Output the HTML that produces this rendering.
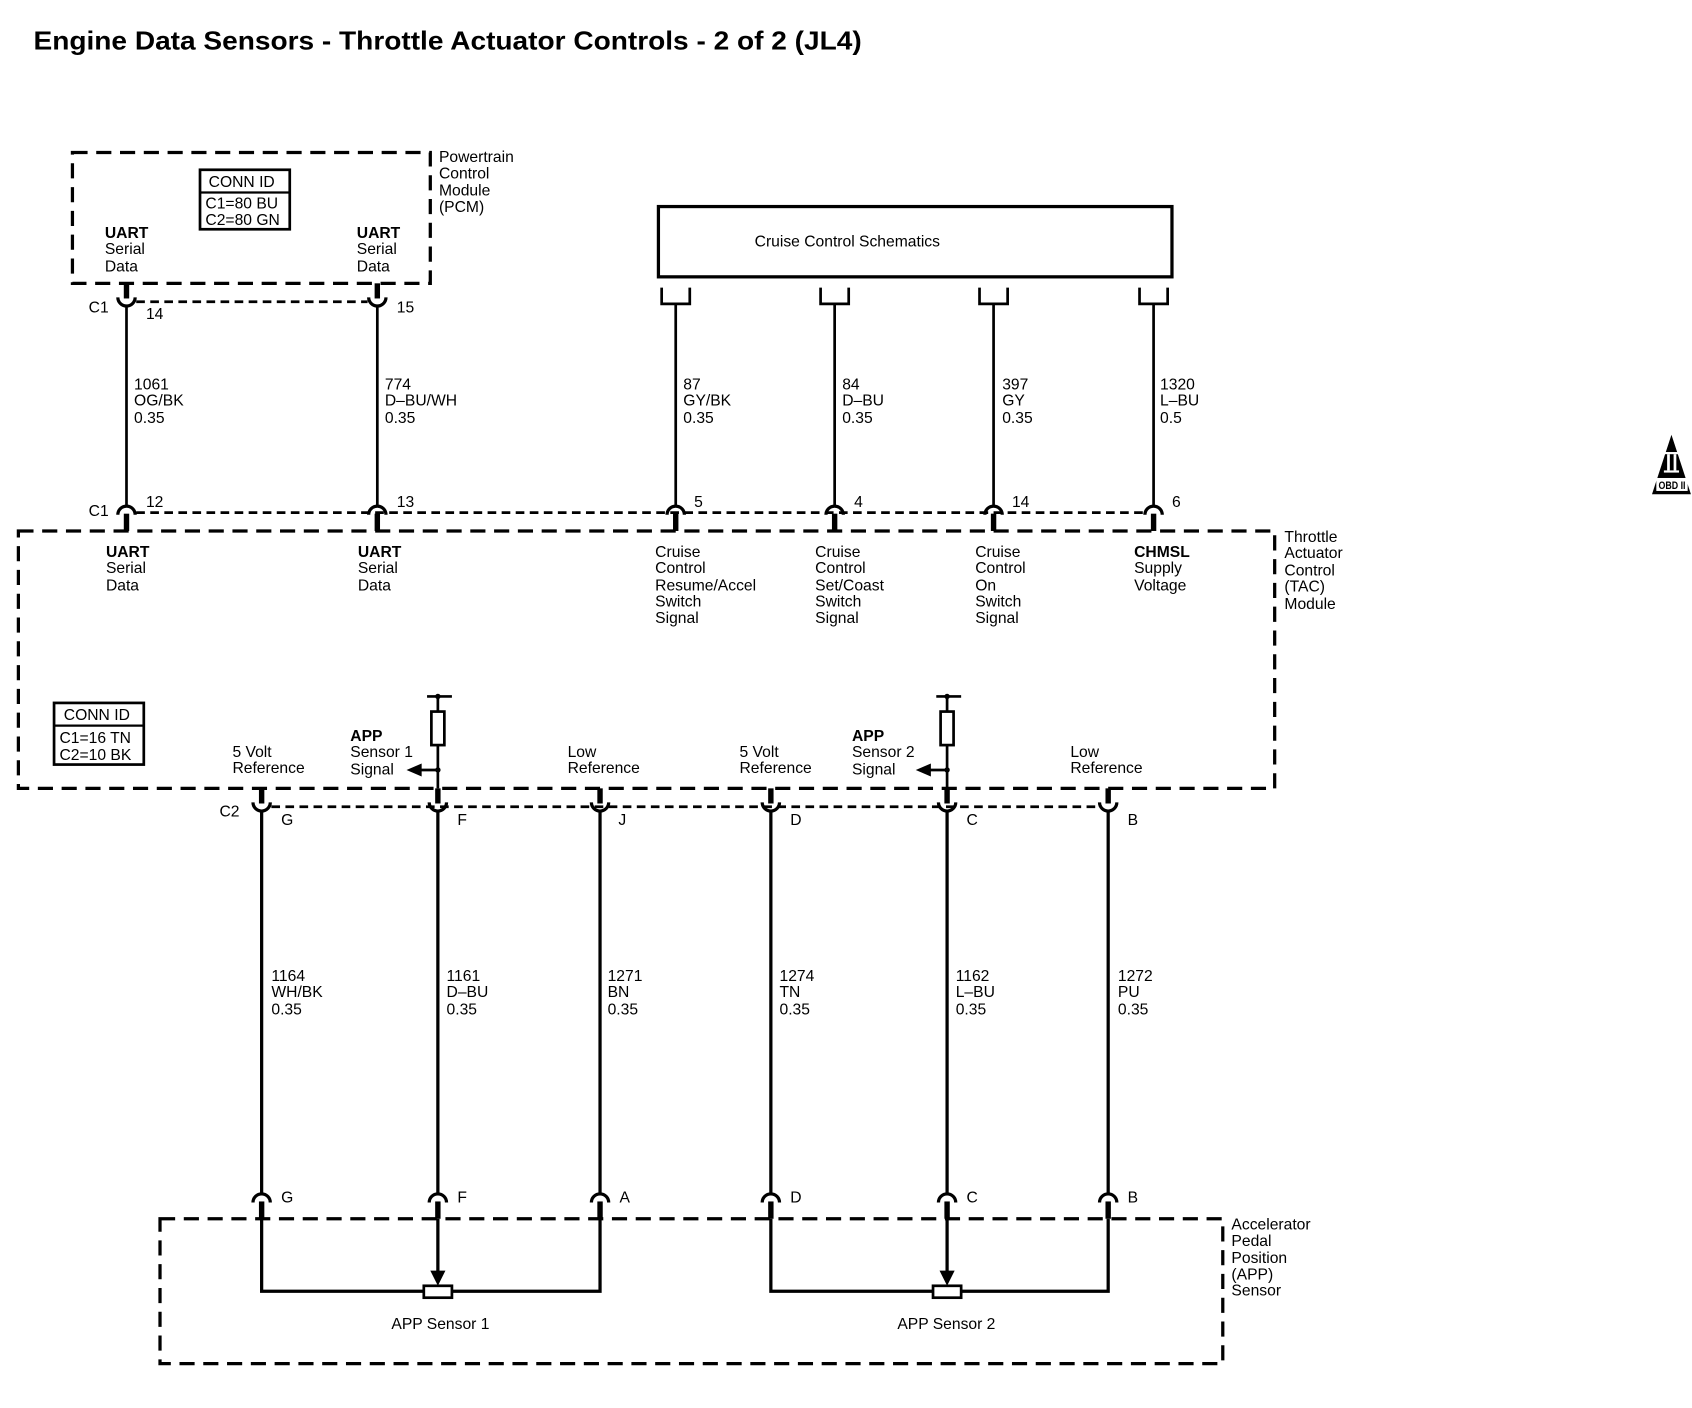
<!DOCTYPE html>
<html><head><meta charset="utf-8"><style>
html,body{margin:0;padding:0;background:#fff;}
svg{display:block;}
text{font-family:"Liberation Sans",Arial,sans-serif;font-size:14.5px;fill:#000;}
.b{font-weight:bold;}
</style></head><body>
<svg width="1692" height="1408" viewBox="0 0 1565 1302" preserveAspectRatio="none" xmlns="http://www.w3.org/2000/svg">
<defs>
<g id="cu"><line x1="0" y1="-14" x2="0" y2="0" stroke="#000" stroke-width="5"/><path d="M-8,-1 A8 8 0 0 0 8,-1" fill="none" stroke="#000" stroke-width="3"/></g>
<g id="ca"><path d="M-8,1 A8 8 0 0 1 8,1" fill="none" stroke="#000" stroke-width="3"/><line x1="0" y1="0" x2="0" y2="16" stroke="#000" stroke-width="5"/></g>
<g id="br"><path d="M-13,266 V281 H13 V266" fill="none" stroke="#000" stroke-width="2.5"/></g>
</defs>

<text x="31" y="46" class="b" style="font-size:24px" textLength="766" lengthAdjust="spacingAndGlyphs">Engine Data Sensors - Throttle Actuator Controls - 2 of 2 (JL4)</text>

<rect x="67" y="141" width="331" height="121" fill="none" stroke="#000" stroke-width="3" stroke-dasharray="14 8"/>
<text x="406" y="150">Powertrain</text><text x="406" y="165">Control</text><text x="406" y="181">Module</text><text x="406" y="196">(PCM)</text>
<rect x="185" y="157" width="83" height="55" fill="none" stroke="#000" stroke-width="2.5"/>
<line x1="185" y1="178" x2="268" y2="178" stroke="#000" stroke-width="2"/>
<text x="193" y="173">CONN ID</text><text x="190" y="193">C1=80 BU</text><text x="190" y="208">C2=80 GN</text>
<text x="97" y="220" class="b">UART</text><text x="97" y="235">Serial</text><text x="97" y="251">Data</text>
<text x="330" y="220" class="b">UART</text><text x="330" y="235">Serial</text><text x="330" y="251">Data</text>

<rect x="609" y="191" width="475" height="65" fill="none" stroke="#000" stroke-width="3"/>
<text x="698" y="228">Cruise Control Schematics</text>
<use href="#br" x="625"/><use href="#br" x="772"/><use href="#br" x="919"/><use href="#br" x="1067"/>

<line x1="126" y1="279" x2="340" y2="279" stroke="#000" stroke-width="2.5" stroke-dasharray="8 5"/>
<use href="#cu" x="117" y="276"/><use href="#cu" x="349" y="276"/>
<text x="82" y="289">C1</text><text x="135" y="295">14</text><text x="367" y="289">15</text>

<g stroke="#000" stroke-width="2.5">
<line x1="117" y1="283" x2="117" y2="468"/><line x1="349" y1="283" x2="349" y2="468"/>
<line x1="625" y1="281" x2="625" y2="468"/><line x1="772" y1="281" x2="772" y2="468"/>
<line x1="919" y1="281" x2="919" y2="468"/><line x1="1067" y1="281" x2="1067" y2="468"/>
</g>
<text x="124" y="360">1061</text><text x="124" y="375">OG/BK</text><text x="124" y="391">0.35</text>
<text x="356" y="360">774</text><text x="356" y="375">D–BU/WH</text><text x="356" y="391">0.35</text>
<text x="632" y="360">87</text><text x="632" y="375">GY/BK</text><text x="632" y="391">0.35</text>
<text x="779" y="360">84</text><text x="779" y="375">D–BU</text><text x="779" y="391">0.35</text>
<text x="927" y="360">397</text><text x="927" y="375">GY</text><text x="927" y="391">0.35</text>
<text x="1073" y="360">1320</text><text x="1073" y="375">L–BU</text><text x="1073" y="391">0.5</text>

<line x1="126" y1="474" x2="1060" y2="474" stroke="#000" stroke-width="2.5" stroke-dasharray="8 5"/>
<use href="#ca" x="117" y="475"/><use href="#ca" x="349" y="475"/><use href="#ca" x="625" y="475"/>
<use href="#ca" x="772" y="475"/><use href="#ca" x="919" y="475"/><use href="#ca" x="1067" y="475"/>
<text x="82" y="477">C1</text><text x="135" y="469">12</text><text x="367" y="469">13</text>
<text x="642" y="469">5</text><text x="790" y="469">4</text><text x="936" y="469">14</text><text x="1084" y="469">6</text>

<rect x="17" y="491" width="1162" height="238" fill="none" stroke="#000" stroke-width="3" stroke-dasharray="14 8"/>
<text x="1188" y="501">Throttle</text><text x="1188" y="516">Actuator</text><text x="1188" y="532">Control</text><text x="1188" y="547">(TAC)</text><text x="1188" y="563">Module</text>
<text x="98" y="515" class="b">UART</text><text x="98" y="530">Serial</text><text x="98" y="546">Data</text>
<text x="331" y="515" class="b">UART</text><text x="331" y="530">Serial</text><text x="331" y="546">Data</text>
<text x="606" y="515">Cruise</text><text x="606" y="530">Control</text><text x="606" y="546">Resume/Accel</text><text x="606" y="561">Switch</text><text x="606" y="576">Signal</text>
<text x="754" y="515">Cruise</text><text x="754" y="530">Control</text><text x="754" y="546">Set/Coast</text><text x="754" y="561">Switch</text><text x="754" y="576">Signal</text>
<text x="902" y="515">Cruise</text><text x="902" y="530">Control</text><text x="902" y="546">On</text><text x="902" y="561">Switch</text><text x="902" y="576">Signal</text>
<text x="1049" y="515" class="b">CHMSL</text><text x="1049" y="530">Supply</text><text x="1049" y="546">Voltage</text>

<rect x="50" y="650" width="83" height="57" fill="none" stroke="#000" stroke-width="2.5"/>
<line x1="50" y1="671" x2="133" y2="671" stroke="#000" stroke-width="2"/>
<text x="59" y="666">CONN ID</text><text x="55" y="687">C1=16 TN</text><text x="55" y="703">C2=10 BK</text>

<text x="215" y="700">5 Volt</text><text x="215" y="715">Reference</text>
<text x="324" y="685" class="b">APP</text><text x="324" y="700">Sensor 1</text><text x="324" y="716">Signal</text>
<text x="525" y="700">Low</text><text x="525" y="715">Reference</text>
<text x="684" y="700">5 Volt</text><text x="684" y="715">Reference</text>
<text x="788" y="685" class="b">APP</text><text x="788" y="700">Sensor 2</text><text x="788" y="716">Signal</text>
<text x="990" y="700">Low</text><text x="990" y="715">Reference</text>

<g stroke="#000" stroke-width="2.5" fill="none">
<line x1="395" y1="644" x2="418" y2="644"/><line x1="405" y1="644" x2="405" y2="658"/>
<rect x="399" y="658" width="12" height="31" fill="#fff"/><line x1="405" y1="689" x2="405" y2="729"/>
<line x1="405" y1="712" x2="388" y2="712"/>
<line x1="866" y1="644" x2="889" y2="644"/><line x1="876" y1="644" x2="876" y2="658"/>
<rect x="870" y="658" width="12" height="31" fill="#fff"/><line x1="876" y1="689" x2="876" y2="729"/>
<line x1="876" y1="712" x2="859" y2="712"/>
</g>
<circle cx="405" cy="644" r="2.5"/><circle cx="405" cy="712" r="2.5"/>
<circle cx="876" cy="644" r="2.5"/><circle cx="876" cy="712" r="2.5"/>
<polygon points="376,712 390,706 390,718"/><polygon points="847,712 861,706 861,718"/>

<line x1="251" y1="746" x2="1016" y2="746" stroke="#000" stroke-width="2.5" stroke-dasharray="8 5"/>
<use href="#cu" x="242" y="743"/><use href="#cu" x="405" y="743"/><use href="#cu" x="555" y="743"/>
<use href="#cu" x="713" y="743"/><use href="#cu" x="876" y="743"/><use href="#cu" x="1025" y="743"/>
<text x="203" y="755">C2</text><text x="260" y="763">G</text><text x="423" y="763">F</text><text x="572" y="763">J</text>
<text x="731" y="763">D</text><text x="894" y="763">C</text><text x="1043" y="763">B</text>

<g stroke="#000" stroke-width="3">
<line x1="242" y1="750" x2="242" y2="1103"/><line x1="405" y1="750" x2="405" y2="1103"/><line x1="555" y1="750" x2="555" y2="1103"/>
<line x1="713" y1="750" x2="713" y2="1103"/><line x1="876" y1="750" x2="876" y2="1103"/><line x1="1025" y1="750" x2="1025" y2="1103"/>
</g>
<text x="251" y="907">1164</text><text x="251" y="922">WH/BK</text><text x="251" y="938">0.35</text>
<text x="413" y="907">1161</text><text x="413" y="922">D–BU</text><text x="413" y="938">0.35</text>
<text x="562" y="907">1271</text><text x="562" y="922">BN</text><text x="562" y="938">0.35</text>
<text x="721" y="907">1274</text><text x="721" y="922">TN</text><text x="721" y="938">0.35</text>
<text x="884" y="907">1162</text><text x="884" y="922">L–BU</text><text x="884" y="938">0.35</text>
<text x="1034" y="907">1272</text><text x="1034" y="922">PU</text><text x="1034" y="938">0.35</text>

<use href="#ca" x="242" y="1111"/><use href="#ca" x="405" y="1111"/><use href="#ca" x="555" y="1111"/>
<use href="#ca" x="713" y="1111"/><use href="#ca" x="876" y="1111"/><use href="#ca" x="1025" y="1111"/>
<text x="260" y="1112">G</text><text x="423" y="1112">F</text><text x="573" y="1112">A</text>
<text x="731" y="1112">D</text><text x="894" y="1112">C</text><text x="1043" y="1112">B</text>

<rect x="148" y="1127" width="983" height="134" fill="none" stroke="#000" stroke-width="3" stroke-dasharray="14 8"/>
<text x="1139" y="1137">Accelerator</text><text x="1139" y="1152">Pedal</text><text x="1139" y="1168">Position</text><text x="1139" y="1183">(APP)</text><text x="1139" y="1198">Sensor</text>

<g stroke="#000" stroke-width="3" fill="none">
<path d="M242,1127 V1194 H555 V1127"/><line x1="405" y1="1127" x2="405" y2="1176"/>
<path d="M713,1127 V1194 H1025 V1127"/><line x1="876" y1="1127" x2="876" y2="1176"/>
</g>
<polygon points="398,1175 412,1175 405,1189"/><polygon points="869,1175 883,1175 876,1189"/>
<rect x="392" y="1189" width="26" height="11" fill="#fff" stroke="#000" stroke-width="2.5"/>
<rect x="863" y="1189" width="26" height="11" fill="#fff" stroke="#000" stroke-width="2.5"/>
<text x="362" y="1229">APP Sensor 1</text><text x="830" y="1229">APP Sensor 2</text>

<polygon points="1546,402 1564,457 1528,457" fill="#000"/>
<rect x="1539" y="418" width="14" height="2" fill="#fff"/><rect x="1539" y="435" width="14" height="2" fill="#fff"/>
<rect x="1542" y="420" width="2.5" height="15" fill="#fff"/><rect x="1548" y="420" width="2.5" height="15" fill="#fff"/>
<rect x="1532" y="442" width="29" height="12" fill="#fff"/>
<text x="1534" y="452" class="b" style="font-size:10px" textLength="25" lengthAdjust="spacingAndGlyphs">OBD II</text>
</svg>
</body></html>
